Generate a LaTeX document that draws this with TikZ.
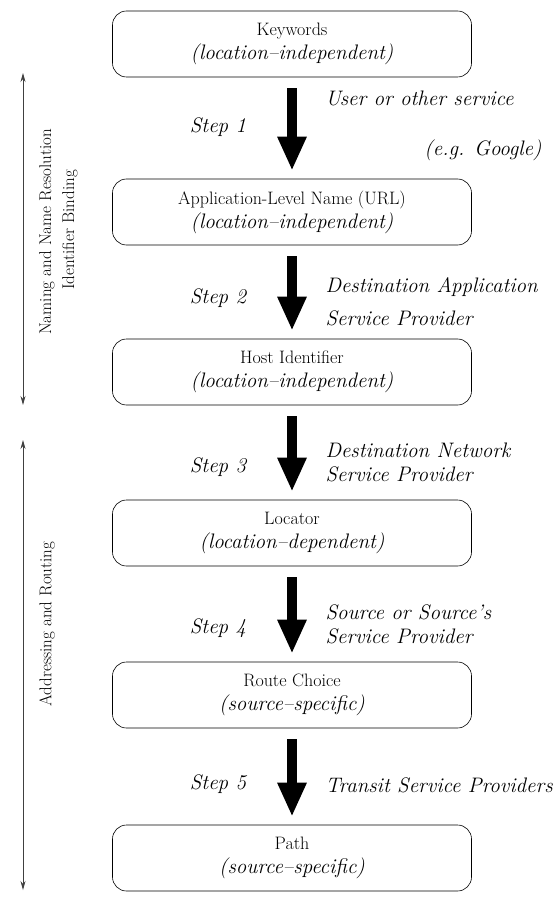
\documentclass[tikz,border=0pt]{standalone}
\usetikzlibrary{arrows.meta}
\begin{document}
\begin{tikzpicture}[x=1pt, y=-1pt,
  level/.style={draw, line width=0.6pt, rounded corners=14pt, minimum width=359pt,
    minimum height=66pt, align=center, inner sep=0pt,
    font=\fontsize{18}{24}\selectfont},
  bigarrow/.style={line width=10pt, -{Triangle[width=27pt,length=34pt]},
    shorten <=11pt, shorten >=8pt},
  steplabel/.style={font=\fontsize{21}{24}\selectfont\itshape},
  actor/.style={font=\fontsize{21}{24}\selectfont\itshape, anchor=west, align=left},
  span/.style={draw=black!75, line width=0.8pt, {Stealth[length=9pt,width=5pt]}-{Stealth[length=9pt,width=5pt]}},
  side/.style={rotate=90, font=\fontsize{17}{19}\selectfont}]
  \useasboundingbox (0,0) rectangle (557,901);

  % the six levels
  \node[level] (b1) at (292,44)  {Keywords\\\textit{\fontsize{21}{24}\selectfont(location--independent)}};
  \node[level] (b2) at (292,212) {Application-Level Name (URL)\\\textit{\fontsize{21}{24}\selectfont(location--independent)}};
  \node[level] (b3) at (292,372) {Host Identifier\\\textit{\fontsize{21}{24}\selectfont(location--independent)}};
  \node[level] (b4) at (292,533) {Locator\\\textit{\fontsize{21}{24}\selectfont(location--dependent)}};
  \node[level] (b5) at (292,695) {Route Choice\\\textit{\fontsize{21}{24}\selectfont(source--specific)}};
  \node[level] (b6) at (292,858) {Path\\\textit{\fontsize{21}{24}\selectfont(source--specific)}};

  % mapping steps
  \draw[bigarrow] (b1) -- (b2);
  \draw[bigarrow] (b2) -- (b3);
  \draw[bigarrow] (b3) -- (b4);
  \draw[bigarrow] (b4) -- (b5);
  \draw[bigarrow] (b5) -- (b6);

  \node[steplabel] (s1) at (218,127) {Step 1};
  \node[steplabel] (s2) at (218,298) {Step 2};
  \node[steplabel] (s3) at (218,467) {Step 3};
  \node[steplabel] (s4) at (218,628) {Step 4};
  \node[steplabel] (s5) at (218,784) {Step 5};

  \node[actor] (a1) at (322,98) {User or other service};
  \node[actor, anchor=east] (a1b) at (545,150) {(e.g. Google)};
  \node[actor] (a2) at (322,287) {Destination Application};
  \node[actor] (a2b) at (322,318) {Service Provider};
  \node[actor] (a3) at (322,462) {Destination Network\\Service Provider};
  \node[actor] (a4) at (322,624) {Source or Source's\\Service Provider};
  \node[actor] (a5) at (322,785) {Transit Service Providers};

  % left-hand spans
  \coordinate (u1) at (23,73);
  \coordinate (u2) at (23,405);
  \coordinate (l1) at (23,440);
  \coordinate (l2) at (23,890);
  \draw[span] (u1) -- (u2);
  \draw[span] (l1) -- (l2);
  \node[side] (n1) at (47,232) {Naming and Name Resolution};
  \node[side] (n2) at (70,230) {Identifier Binding};
  \node[side] (n3) at (47,624) {Addressing and Routing};
\end{tikzpicture}
\end{document}
